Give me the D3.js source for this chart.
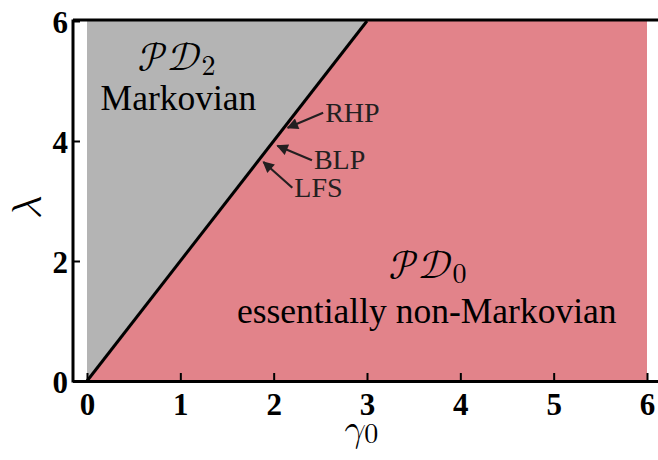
<!DOCTYPE html>
<html><head><meta charset="utf-8">
<script src="https://cdn.jsdelivr.net/npm/d3@7"></script>
<style>body{margin:0;background:#fff}</style>
</head><body>
<svg id="c" width="658" height="460"></svg>
<script>
// ---- data ----
const xTicks = [0, 1, 2, 3, 4, 5, 6];
const yTicks = [0, 2, 4, 6];
const boundary = [[0, 0], [3, 6]];            // λ = 2 γ0
const regionPD2 = [[0, 0], [0, 6], [3, 6]];
const regionPD0 = [[0, 0], [3, 6], [6, 6], [6, 0]];
const arrowLabels = ["RHP", "BLP", "LFS"];
const arrowFrom = [[2.53, 4.47], [2.41, 3.68], [2.20, 3.22]];
const arrowTo = [[2.15, 4.22], [2.04, 3.92], [1.89, 3.65]];

// ---- layout ----
const svg = d3.select("#c");
const x = d3.scaleLinear().domain([0, 6]).range([87, 647]);
const y = d3.scaleLinear().domain([0, 6]).range([381, 21]);
const xMin = x.invert(73), xMax = x.invert(660);
const ink = "#000";
const SERIF = '"Liberation Serif"';
const MATH = '"Latin Modern Math"';
const LMR = '"Latin Modern Roman"';

const line = d3.line().x(d => x(d[0])).y(d => y(d[1]));
svg.append("path").attr("d", line(regionPD2) + "Z").attr("fill", "#b4b4b4");
svg.append("path").attr("d", line(regionPD0) + "Z").attr("fill", "#e2838a");
svg.append("path").attr("d", line(boundary)).attr("stroke", ink).attr("stroke-width", 3).attr("fill", "none");

// frame
svg.append("line").attr("x1", x(xMin)).attr("x2", x(xMin)).attr("y1", y(6) - 1.5).attr("y2", y(0) + 1.5)
  .attr("stroke", ink).attr("stroke-width", 3);
svg.append("line").attr("x1", x(xMin)).attr("x2", x(xMax)).attr("y1", y(6) - 1).attr("y2", y(6) - 1)
  .attr("stroke", ink).attr("stroke-width", 3);
svg.append("line").attr("x1", x(xMin)).attr("x2", x(xMax)).attr("y1", y(0) + 0.5).attr("y2", y(0) + 0.5)
  .attr("stroke", ink).attr("stroke-width", 3);

// axes with inward ticks
const xAxis = d3.axisBottom(x).tickValues(xTicks).tickSizeInner(-8).tickSizeOuter(0).tickPadding(22).tickFormat(d3.format("d"));
const gx = svg.append("g").attr("transform", `translate(0,${y(0)})`).call(xAxis);
gx.attr("font-family", SERIF).attr("font-size", 31);
gx.select(".domain").remove();
gx.selectAll(".tick line").attr("stroke", ink).attr("stroke-width", 2);
gx.selectAll(".tick text").attr("font-family", SERIF).attr("font-weight", "bold").attr("font-size", 31).attr("fill", ink)
  .attr("dy", "0.4em");

const yAxis = d3.axisLeft(y).tickValues(yTicks).tickSizeInner(-7).tickSizeOuter(0).tickPadding(5).tickFormat(d3.format("d"));
const gy = svg.append("g").attr("transform", `translate(${x(xMin)},0)`).call(yAxis);
gy.attr("font-family", SERIF).attr("font-size", 31);
gy.select(".domain").remove();
gy.selectAll(".tick line").attr("stroke", ink).attr("stroke-width", 2);
gy.selectAll(".tick text").attr("font-family", SERIF).attr("font-weight", "bold").attr("font-size", 31).attr("fill", ink)
  .attr("dy", "0.36em");

// axis titles
svg.append("text").attr("transform", `translate(40,${y(2.9)}) rotate(-90)`).attr("text-anchor", "middle")
  .attr("font-family", MATH).attr("font-size", 40).text("𝜆");
const xt = svg.append("text").attr("x", x(2.94)).attr("y", 441).attr("text-anchor", "middle")
  .attr("font-family", MATH).attr("font-size", 38);
xt.append("tspan").text("𝛾");
xt.append("tspan").attr("font-family", LMR).attr("font-size", 28).attr("dy", 2).text("0");

// region labels
function pd(xp, yp, sub) {
  const t = svg.append("text").attr("x", xp).attr("y", yp).attr("text-anchor", "middle")
    .attr("font-family", MATH).attr("font-size", 39);
  t.append("tspan").text("𝒫𝒟");
  t.append("tspan").attr("font-family", LMR).attr("font-size", 28).attr("dy", 5).text(sub);
}
pd(x(0.96), 70, "2");
svg.append("text").attr("x", x(0.98)).attr("y", 110).attr("text-anchor", "middle")
  .attr("font-family", SERIF).attr("font-size", 35.5).text("Markovian");
pd(x(3.65), 278, "0");
svg.append("text").attr("x", x(3.64)).attr("y", 323).attr("text-anchor", "middle")
  .attr("font-family", SERIF).attr("font-size", 35.5).text("essentially non-Markovian");

// arrows
svg.append("defs").append("marker").attr("id", "ah").attr("viewBox", "0 0 10 10").attr("refX", 9).attr("refY", 5)
  .attr("markerWidth", 6.5).attr("markerHeight", 5.2).attr("orient", "auto").attr("markerUnits", "strokeWidth")
  .append("path").attr("d", "M0,0 L10,5 L0,10 Z").attr("fill", "#231f20");
arrowLabels.forEach((lab, i) => {
  svg.append("line").attr("x1", x(arrowFrom[i][0])).attr("y1", y(arrowFrom[i][1]))
    .attr("x2", x(arrowTo[i][0])).attr("y2", y(arrowTo[i][1]))
    .attr("stroke", "#231f20").attr("stroke-width", 2.2).attr("marker-end", "url(#ah)");
  svg.append("text").attr("x", x(arrowFrom[i][0]) + 2).attr("y", y(arrowFrom[i][1]) + 9)
    .attr("font-family", SERIF).attr("font-size", 28).attr("fill", "#231f20").text(lab);
});
</script>
</body></html>
